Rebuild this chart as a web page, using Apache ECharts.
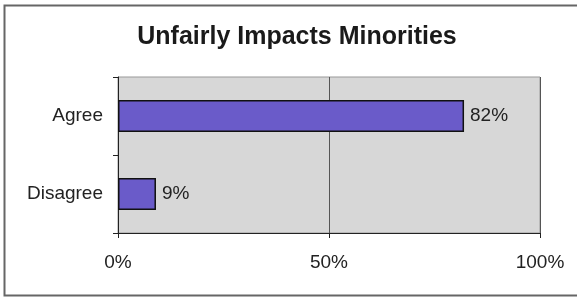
<!DOCTYPE html>
<html>
<head>
<meta charset="utf-8">
<script src="https://cdn.jsdelivr.net/npm/echarts@6/dist/echarts.min.js"></script>
<style>
  html, body { margin: 0; padding: 0; background: #fff; }
  #chart { width: 577px; height: 299px; }
</style>
</head>
<body>
<div id="chart"></div>
<script>
var categories = ['Agree', 'Disagree'];
var values = [82, 9];
var xTicks = [0, 50, 100];

var myChart = echarts.init(document.getElementById('chart'));
myChart.setOption({
    animation: false,
    backgroundColor: '#fff',
    title: {
        text: 'Unfairly Impacts Minorities',
        left: 292,
        textAlign: 'center',
        top: 20,
        textStyle: { fontFamily: 'Liberation Sans', fontSize: 25, fontWeight: 'bold', color: '#1a1a1a' }
    },
    // outer frame of the scanned chart: left, top and bottom edges only
    graphic: [{
        type: 'polyline',
        shape: { points: [[577, 5.5], [4.5, 5.5], [4.5, 295.5], [577, 295.5]] },
        style: { fill: 'none', stroke: '#666', lineWidth: 2 }
    }],
    grid: {
        left: 118, right: 37, top: 77, bottom: 66,
        show: true,
        backgroundColor: '#d7d7d7',
        borderColor: '#999',
        borderWidth: 1
    },
    xAxis: {
        type: 'value',
        min: 0, max: 100, interval: 50,
        axisLine: { show: true, lineStyle: { color: '#222', width: 1 } },
        axisTick: { show: true, length: 5, lineStyle: { color: '#222' } },
        splitLine: { show: true, lineStyle: { color: '#555', width: 1 } },
        axisLabel: {
            margin: 20,
            fontFamily: 'Liberation Sans', fontSize: 19, color: '#222',
            formatter: function (v) { return xTicks.indexOf(v) >= 0 ? v + '%' : ''; }
        }
    },
    yAxis: {
        type: 'category',
        inverse: true,
        data: categories,
        axisLine: { show: true, lineStyle: { color: '#222', width: 1 } },
        axisTick: { show: true, length: 5, lineStyle: { color: '#222' } },
        axisLabel: { margin: 15, fontFamily: 'Liberation Sans', fontSize: 19, color: '#222' }
    },
    series: [{
        type: 'bar',
        data: values,
        barWidth: 32,
        itemStyle: { color: '#6a5bc9', borderColor: '#111', borderWidth: 1.5 },
        label: {
            show: true, position: 'right', distance: 6,
            formatter: '{c}%',
            fontFamily: 'Liberation Sans', fontSize: 19, color: '#222'
        }
    }]
});
</script>
</body>
</html>
